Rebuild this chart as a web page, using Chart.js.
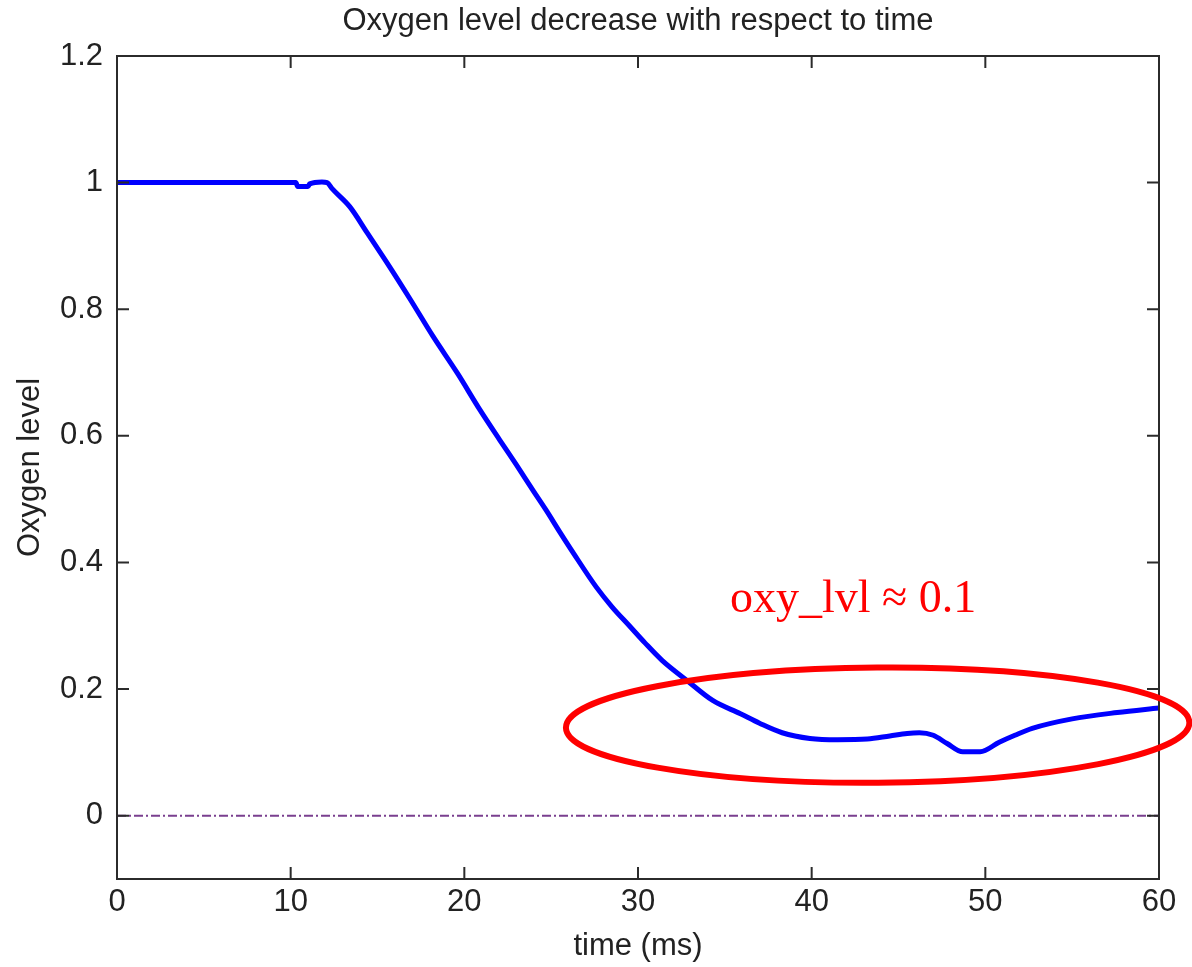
<!DOCTYPE html>
<html>
<head>
<meta charset="utf-8">
<script src="https://cdn.jsdelivr.net/npm/chart.js@4/dist/chart.umd.min.js"></script>
<style>
  body { margin: 0; background: #fff; }
  #wrap { width: 1192px; height: 967px; }
</style>
</head>
<body>
<div id="wrap"><canvas id="myChart" width="1192" height="967"></canvas></div>
<script>
// values
var times = [0, 5, 10, 10.3, 10.4, 11.0, 11.1, 11.8, 12.1, 12.4, 13.4, 14.4, 15.7, 16.9, 18.2, 19.6, 20.9, 22.05, 23.0, 24.0, 24.7, 25.5, 26.3, 27.6, 28.5, 29.5, 30.4, 31.4, 32.8, 34.3, 35.9, 37.0, 38.3, 39.9, 41.5, 43.2, 44.5, 45.5, 46.2, 47.0, 47.8, 48.7, 49.7, 50.8, 51.7, 52.7, 55.0, 57.6, 60];
var oxygen = [1, 1, 1, 1.0, 0.994, 0.994, 0.998, 1.001, 1.0, 0.99, 0.962, 0.921, 0.867, 0.815, 0.757, 0.699, 0.641, 0.593, 0.554, 0.512, 0.483, 0.448, 0.414, 0.361, 0.330, 0.300, 0.273, 0.245, 0.214, 0.182, 0.161, 0.146, 0.131, 0.122, 0.12, 0.121, 0.126, 0.13, 0.131, 0.127, 0.114, 0.101, 0.101, 0.116, 0.127, 0.138, 0.153, 0.163, 0.17];
var zeroTimes = [0, 60];
var zeroLevel = [0, 0];
var xTicks = [0, 10, 20, 30, 40, 50, 60];
var yTicks = [0, 0.2, 0.4, 0.6, 0.8, 1, 1.2];
var noteText = "oxy_lvl \u2248 0.1";

var mainFont = "'Liberation Sans', Arial, sans-serif";

function pairs(xs, ys) {
    return xs.map(function (x, i) { return { x: x, y: ys[i] }; });
}

// box + inward ticks, like the matlab axes
var boxPlugin = {
    id: "box",
    afterDatasetsDraw: function (chart) {
        var ctx = chart.ctx, a = chart.chartArea;
        var xs = chart.scales.x, ys = chart.scales.y;
        ctx.save();
        ctx.strokeStyle = "#2b2b2b";
        ctx.lineWidth = 2;
        ctx.strokeRect(a.left, a.top, a.right - a.left, a.bottom - a.top);
        ctx.beginPath();
        xs.ticks.forEach(function (t) {
            var px = xs.getPixelForValue(t.value);
            ctx.moveTo(px, a.bottom); ctx.lineTo(px, a.bottom - 12);
            ctx.moveTo(px, a.top); ctx.lineTo(px, a.top + 12);
        });
        ys.ticks.forEach(function (t) {
            var py = ys.getPixelForValue(t.value);
            ctx.moveTo(a.left, py); ctx.lineTo(a.left + 12, py);
            ctx.moveTo(a.right, py); ctx.lineTo(a.right - 12, py);
        });
        ctx.stroke();
        ctx.restore();
    }
};

// red hand annotation
var notePlugin = {
    id: "note",
    afterDraw: function (chart) {
        var ctx = chart.ctx;
        var xs = chart.scales.x, ys = chart.scales.y;
        var cx = xs.getPixelForValue(43.8), cy = ys.getPixelForValue(0.143);
        var rx = xs.getPixelForValue(43.8 + 17.95) - cx;
        var ry = ys.getPixelForValue(0.143) - ys.getPixelForValue(0.143 + 0.091);
        ctx.save();
        ctx.strokeStyle = "#ff0000";
        ctx.lineWidth = 6;
        ctx.beginPath();
        ctx.ellipse(cx, cy, rx, ry, -0.008, 0, Math.PI * 2);
        ctx.stroke();
        ctx.fillStyle = "#ff0000";
        ctx.font = "46px 'Liberation Serif', serif";
        ctx.textAlign = "left";
        ctx.textBaseline = "alphabetic";
        ctx.fillText(noteText, xs.getPixelForValue(35.3), ys.getPixelForValue(0.321));
        ctx.restore();
    }
};

var myChart = document.getElementById("myChart").getContext("2d");

var chart = new Chart(myChart, {
    type: "scatter",
    data: {
        datasets: [
            {
                label: "zero",
                data: pairs(zeroTimes, zeroLevel),
                showLine: true,
                borderColor: "#7a3f8f",
                borderWidth: 2,
                borderDash: [9, 3, 2, 3],
                pointRadius: 0
            },
            {
                label: "Oxygen level",
                data: pairs(times, oxygen),
                showLine: true,
                borderColor: "#0000ff",
                borderWidth: 5,
                borderJoinStyle: "round",
                borderCapStyle: "round",
                pointRadius: 0,
                cubicInterpolationMode: "monotone"
            }
        ]
    },
    options: {
        responsive: false,
        animation: false,
        layout: { padding: { left: 0, right: 33, top: 0, bottom: 0 } },
        plugins: {
            legend: { display: false },
            tooltip: { enabled: false },
            title: {
                display: true,
                fullSize: false,
                text: "Oxygen level decrease with respect to time",
                color: "#222",
                font: { family: mainFont, size: 31, weight: "normal" },
                padding: { top: 3, bottom: 15.8 }
            }
        },
        scales: {
            x: {
                type: "linear",
                min: 0,
                max: 60,
                grid: { display: false, drawTicks: false },
                border: { display: false },
                afterBuildTicks: function (s) { s.ticks = xTicks.map(function (v) { return { value: v }; }); },
                afterFit: function (s) { s.height = 88; },
                ticks: {
                    color: "#222",
                    padding: 5,
                    maxRotation: 0,
                    font: { family: mainFont, size: 31 },
                    callback: function (v) { return String(v); }
                },
                title: {
                    display: true,
                    text: "time (ms)",
                    color: "#222",
                    font: { family: mainFont, size: 31 },
                    padding: { top: 0, bottom: 2 }
                }
            },
            y: {
                type: "linear",
                min: -0.1,
                max: 1.2,
                grid: { display: false, drawTicks: false },
                border: { display: false },
                afterBuildTicks: function (s) { s.ticks = yTicks.map(function (v) { return { value: v }; }); },
                afterFit: function (s) { s.width = 117; },
                ticks: {
                    color: "#222",
                    padding: 14,
                    font: { family: mainFont, size: 31 },
                    callback: function (v) { return String(v); }
                },
                title: {
                    display: true,
                    text: "Oxygen level",
                    color: "#222",
                    font: { family: mainFont, size: 31 },
                    padding: { top: 12, bottom: 0 }
                }
            }
        }
    },
    plugins: [boxPlugin, notePlugin]
});
</script>
</body>
</html>
